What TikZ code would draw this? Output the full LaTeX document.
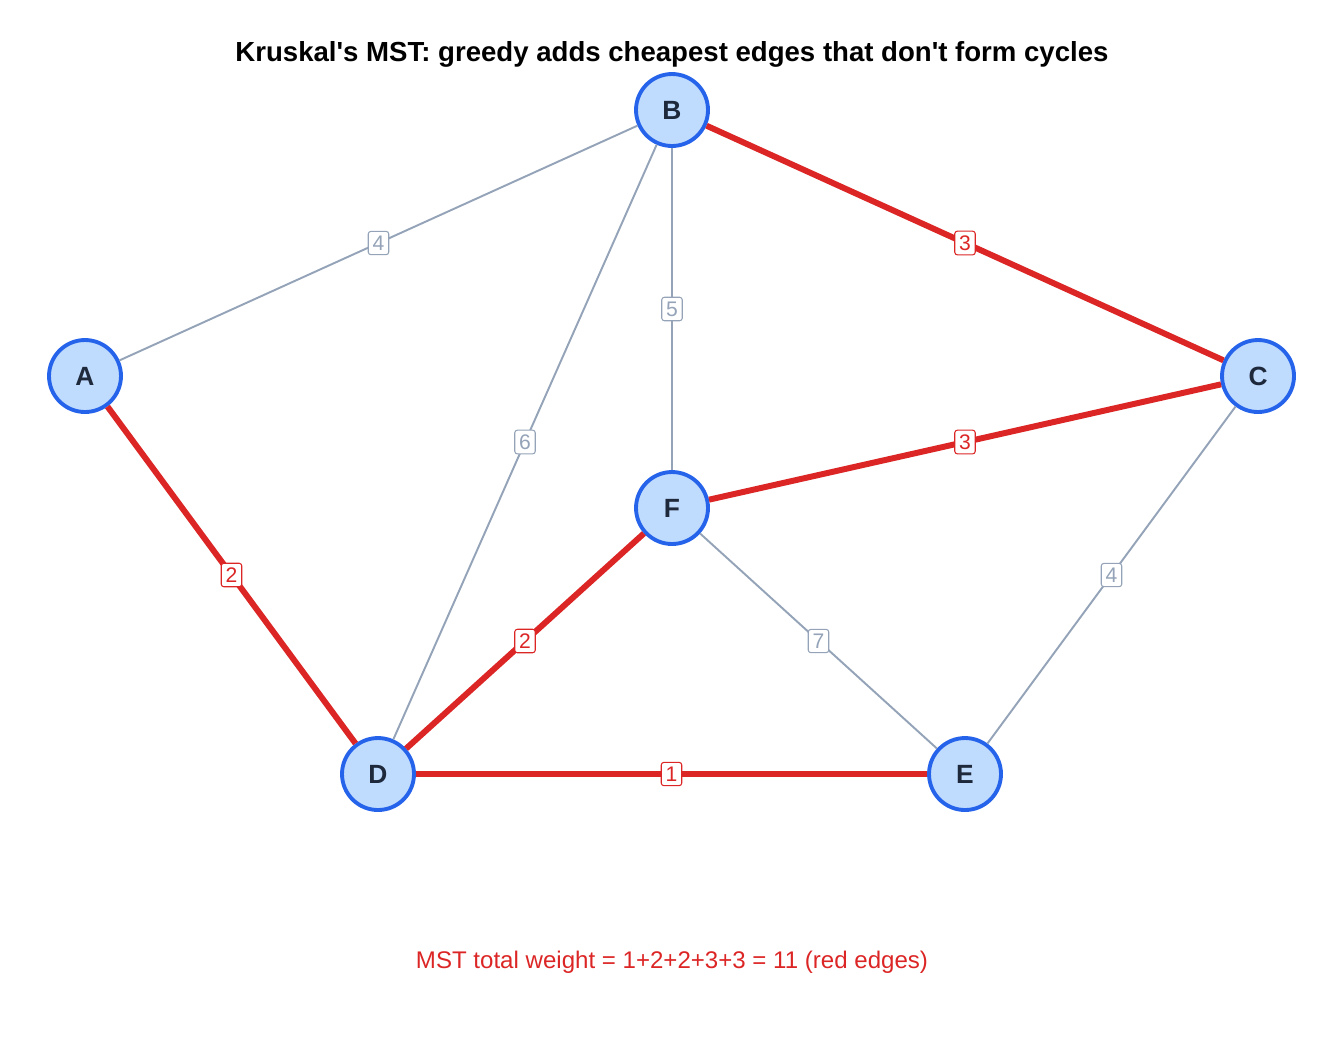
\documentclass[tikz,border=0pt]{standalone}
\usepackage{fontspec}
\setmainfont{Liberation Sans}
\definecolor{nodefill}{HTML}{BFDBFE}
\definecolor{nodeline}{HTML}{2563EB}
\definecolor{mstred}{HTML}{DC2626}
\definecolor{plaingray}{HTML}{94A3B8}
\definecolor{labeltext}{HTML}{1E293B}
\tikzset{
  vertex/.style={circle, draw=nodeline, fill=nodefill, line width=2.2pt, minimum size=1.44cm, inner sep=0pt, font=\fontsize{15}{17}\selectfont\bfseries, text=labeltext},
  plainedge/.style={draw=plaingray, line width=1.1pt},
  mstedge/.style={draw=mstred, line width=3.4pt},
  weight/.style={fill=white, draw=#1, text=#1, rounded corners=1.5pt, line width=0.6pt, inner sep=2.5pt, font=\fontsize{12}{13}\selectfont},
}
\begin{document}
\begin{tikzpicture}[x=0.02cm, y=-0.02cm]

\useasboundingbox (0,0) rectangle (1344,1056);

\node (B) at (672,110) [vertex] {B};
\node (A) at (85,376) [vertex] {A};
\node (C) at (1258,376) [vertex] {C};
\node (F) at (672,508) [vertex] {F};
\node (D) at (378,774) [vertex] {D};
\node (E) at (965,774) [vertex] {E};

% gray edges
\draw[plainedge] (A) -- node[weight=plaingray] {4} (B);
\draw[plainedge] (B) -- node[weight=plaingray] {6} (D);
\draw[plainedge] (B) -- node[weight=plaingray] {5} (F);
\draw[plainedge] (F) -- node[weight=plaingray] {7} (E);
\draw[plainedge] (C) -- node[weight=plaingray] {4} (E);

% mst edges
\draw[mstedge] (B) -- node[weight=mstred] {3} (C);
\draw[mstedge] (F) -- node[weight=mstred] {3} (C);
\draw[mstedge] (A) -- node[weight=mstred] {2} (D);
\draw[mstedge] (D) -- node[weight=mstred] {2} (F);
\draw[mstedge] (D) -- node[weight=mstred] {1} (E);

\node (title) at (672,54) {\fontsize{15.7}{18}\selectfont\bfseries Kruskal\textquotesingle s MST: greedy adds cheapest edges that don\textquotesingle t form cycles};
\node (total) at (672,962) [text=mstred] {\fontsize{13.7}{16}\selectfont MST total weight = 1+2+2+3+3 = 11 (red edges)};

\end{tikzpicture}
\end{document}
